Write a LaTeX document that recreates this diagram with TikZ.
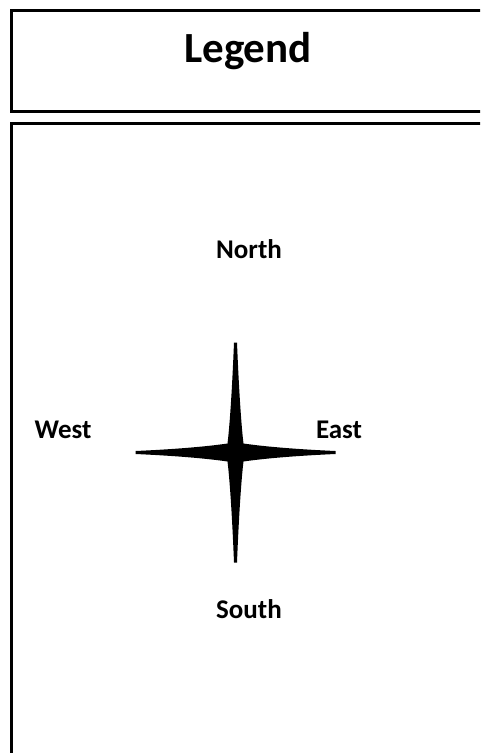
\documentclass[tikz,border=0pt]{standalone}
\usepackage{fontspec}
\setmainfont{Carlito}
\begin{document}
\begin{tikzpicture}[x=1pt,y=-1pt,
  frame/.style={draw=black,line width=3pt},
  dirlabel/.style={font=\bfseries\fontsize{27}{30}\selectfont,inner sep=0pt,anchor=base},
  titlelabel/.style={font=\bfseries\fontsize{43}{48}\selectfont,inner sep=0pt,anchor=base}]
\useasboundingbox (0,0) rectangle (480,753);
\clip (0,0) rectangle (480,753);
\fill[white] (0,0) rectangle (480,753);
% frames
\draw[frame] (11,10.5) rectangle (495,111);
\draw[frame] (11,123) rectangle (495,770);
% title
\node[titlelabel] (legend) at (248,62.5) {Legend};
% direction labels
\node[dirlabel] (north) at (249,258) {North};
\node[dirlabel] (west) at (63,438) {West};
\node[dirlabel] (east) at (339,438) {East};
\node[dirlabel] (south) at (249,618) {South};
% compass star
\begin{scope}[shift={(235.5,452.5)}]
\fill[black]
  (-1.5,-110) -- (1.5,-110)
  .. controls (3.5,-60) and (6,-25) .. (8,-9)
  .. controls (25,-6.5) and (55,-3.5) .. (100,-1.5) -- (100,1.5)
  .. controls (55,3.5) and (25,6.5) .. (8,9)
  .. controls (6,25) and (3.5,60) .. (1.5,110) -- (-1.5,110)
  .. controls (-3.5,60) and (-6,25) .. (-8,9)
  .. controls (-25,6.5) and (-55,3.5) .. (-100,1.5) -- (-100,-1.5)
  .. controls (-55,-3.5) and (-25,-6.5) .. (-8,-9)
  .. controls (-6,-25) and (-3.5,-60) .. (-1.5,-110) -- cycle;
\end{scope}
\end{tikzpicture}
\end{document}
